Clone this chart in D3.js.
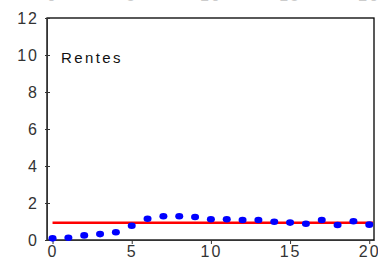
<!DOCTYPE html>
<html>
<head>
<meta charset="utf-8">
<script src="https://cdn.jsdelivr.net/npm/d3@7"></script>
<style>
  html, body { margin: 0; padding: 0; background: #fff; overflow: hidden; }
  svg { display: block; font-family: "Liberation Sans", Arial, sans-serif; }
</style>
</head>
<body>
<svg id="chart" width="378" height="259"></svg>
<script>
// data
const years = d3.range(0, 21);
const rentes = [0.09, 0.12, 0.25, 0.32, 0.42, 0.77, 1.15, 1.28, 1.28, 1.24, 1.12,
                1.12, 1.08, 1.08, 0.99, 0.94, 0.88, 1.08, 0.81, 1.01, 0.83];
const average = 0.93;
const xTicks = [0, 5, 10, 15, 20];
const yTicks = [0, 2, 4, 6, 8, 10, 12];
const label = 'Rentes';

const svg = d3.select('#chart');
const plotLeft = 47, plotRight = 374, plotTop = 18, plotBottom = 240;

const x = d3.scaleLinear().domain([-0.35, 20.3]).range([plotLeft, plotRight]);
const y = d3.scaleLinear().domain([0, 12]).range([plotBottom, plotTop]);

// bottom edge of the panel above, only a sliver of its labels shows
svg.append('g')
  .selectAll('text')
  .data(xTicks)
  .join('text')
    .attr('x', d => x(d))
    .attr('y', 1)
    .attr('text-anchor', 'middle')
    .attr('fill', '#ccc')
    .attr('font-size', 16)
    .attr('letter-spacing', 2)
    .text(d => d);

// frame
svg.append('rect')
  .attr('x', plotLeft).attr('y', plotTop)
  .attr('width', plotRight - plotLeft).attr('height', plotBottom - plotTop)
  .attr('fill', 'none')
  .attr('stroke', '#000')
  .attr('stroke-width', 1.3);

const xAxis = svg.append('g')
  .attr('transform', `translate(0,${plotBottom})`)
  .call(d3.axisBottom(x).tickValues(xTicks).tickSize(4).tickSizeOuter(0).tickPadding(2));
xAxis.select('.domain').attr('stroke', '#333');
xAxis.selectAll('.tick line').attr('stroke', '#333');
xAxis.selectAll('text')
  .attr('font-size', 16)
  .attr('letter-spacing', 2)
  .attr('fill', '#333');

const yAxis = svg.append('g')
  .attr('transform', `translate(${plotLeft},0)`)
  .call(d3.axisLeft(y).tickValues(yTicks).tickSize(-3).tickSizeOuter(0).tickPadding(8));
yAxis.select('.domain').attr('stroke', '#333');
yAxis.selectAll('.tick line').attr('stroke', '#333').attr('x1', -2);
yAxis.selectAll('text')
  .attr('font-size', 16)
  .attr('letter-spacing', 2)
  .attr('fill', '#333');

// mean line
svg.append('line')
  .attr('x1', x(0)).attr('x2', plotRight - 1)
  .attr('y1', y(average)).attr('y2', y(average))
  .attr('stroke', '#ff0000')
  .attr('stroke-width', 2.5);

// points
svg.append('g')
  .selectAll('ellipse')
  .data(years)
  .join('ellipse')
    .attr('cx', d => x(d))
    .attr('cy', (d, i) => y(rentes[i]))
    .attr('rx', 4)
    .attr('ry', 3.3)
    .attr('fill', '#0000ff');

svg.append('text')
  .attr('x', 61)
  .attr('y', 63)
  .attr('font-size', 15)
  .attr('letter-spacing', 2.4)
  .attr('fill', '#111')
  .text(label);
</script>
</body>
</html>
